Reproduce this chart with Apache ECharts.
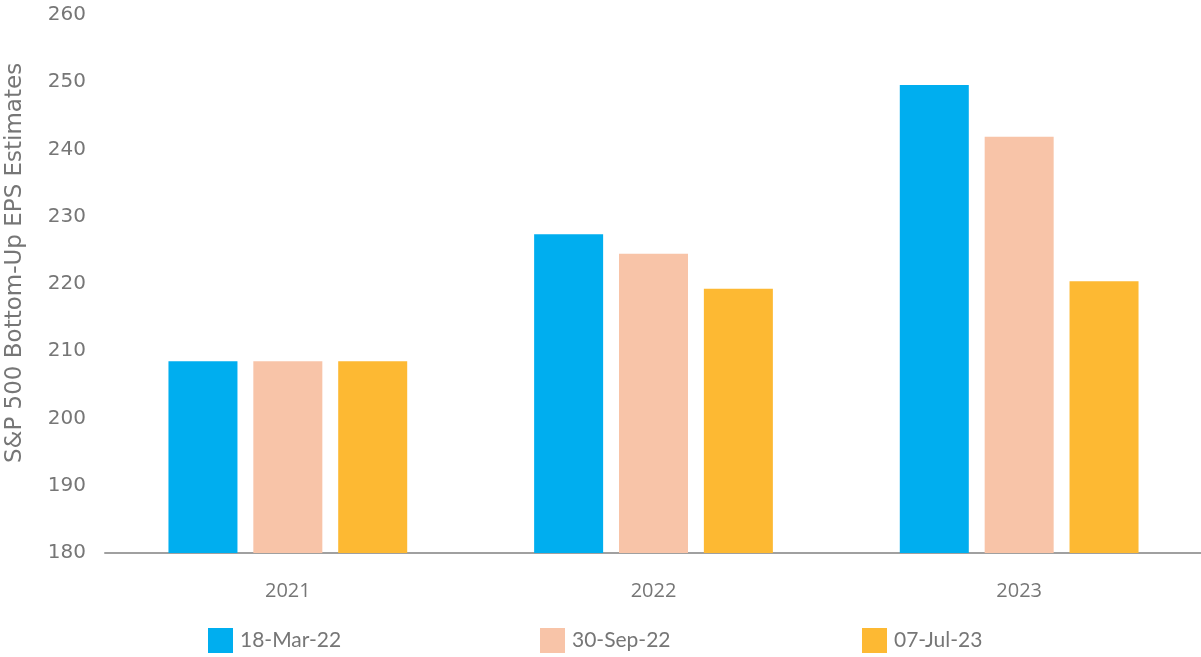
<!DOCTYPE html>
<html>
<head>
<meta charset="utf-8">
<script src="https://cdn.jsdelivr.net/npm/echarts@6/dist/echarts.min.js"></script>
<style>
html,body{margin:0;padding:0;background:#fff;}
#chart{width:1201px;height:657px;}
</style>
</head>
<body>
<div id="chart"></div>
<script>
const categories = ['2021', '2022', '2023'];
const seriesNames = ['18-Mar-22', '30-Sep-22', '07-Jul-23'];
const mar22 = [208.5, 227.4, 249.6];
const sep22 = [208.5, 224.5, 241.9];
const jul23 = [208.5, 219.3, 220.4];
const yTicks = { min: 180, max: 260, interval: 10 };

const colors = ['#00AEEF', '#F8C4A8', '#FDB933'];
const textColor = '#767676';
const values = [mar22, sep22, jul23];

const chart = echarts.init(document.getElementById('chart'));
const legendLefts = [208, 540, 862];
chart.setOption({
  animation: false,
  color: colors,
  textStyle: { fontFamily: '"DejaVu Sans", sans-serif' },
  grid: { left: 105, width: 1097, top: 15, bottom: 104, containLabel: false, outerBoundsMode: 'none' },
  legend: seriesNames.map((n, i) => ({
    data: [n],
    left: legendLefts[i],
    top: 628,
    padding: 0,
    itemWidth: 25,
    itemHeight: 25,
    itemGap: 0,
    icon: 'rect',
    textStyle: { color: textColor, fontSize: 21, fontFamily: '"Liberation Sans Narrow", Lato, sans-serif', padding: [0, 0, 0, 2] }
  })),
  xAxis: {
    type: 'category',
    data: categories,
    axisLine: { lineStyle: { color: '#A0A0A0', width: 2 } },
    axisTick: { show: false },
    axisLabel: { color: textColor, fontSize: 20, margin: 28, fontFamily: '"Open Sans", sans-serif' }
  },
  yAxis: {
    type: 'value',
    min: yTicks.min,
    max: yTicks.max,
    interval: yTicks.interval,
    name: 'S&P 500 Bottom-Up EPS Estimates',
    nameLocation: 'middle',
    nameGap: 78,
    nameTextStyle: { color: textColor, fontSize: 23, fontFamily: '"DejaVu Sans", sans-serif', padding: [0, 0, 0, 42] },
    axisLine: { show: false },
    axisTick: { show: false },
    splitLine: { show: false },
    axisLabel: { color: textColor, fontSize: 20, margin: 19, fontFamily: '"DejaVu Sans", sans-serif' }
  },
  series: seriesNames.map((n, i) => ({
    name: n,
    type: 'bar',
    data: values[i],
    barWidth: 69,
    barGap: '23%',
    barCategoryGap: '34.5%'
  }))
});
</script>
</body>
</html>
